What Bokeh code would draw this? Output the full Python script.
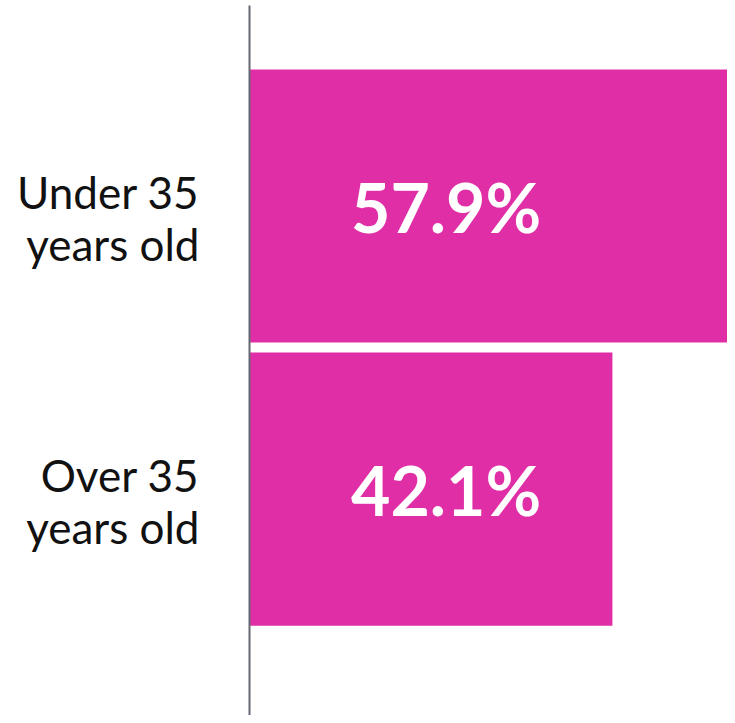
from bokeh.plotting import figure
from bokeh.models import Range1d, FixedTicker, ColumnDataSource
from bokeh.embed import file_html
from bokeh.resources import INLINE
from bokeh.core.properties import value

categories = ["Under 35\nyears old", "Over 35\nyears old"]
shares = [57.9, 42.1]
share_labels = ["57.9%", "42.1%"]

positions = list(range(len(categories)))
FONT = "Lato"
BAR_COLOR = "#E02EA6"
LABEL_X = 22.8
TICK_SHIFT = 0.042

src = ColumnDataSource(dict(y=positions, v=shares, lab=share_labels))

p = figure(width=727, height=715, output_backend="svg", toolbar_location=None,
           x_range=Range1d(0, 55.45), y_range=Range1d(1.800, -0.7085),
           min_border_left=249, min_border_right=0, min_border_top=5, min_border_bottom=0)

p.hbar(y="y", left=0, right="v", height=0.965, source=src, color=BAR_COLOR, line_color=None)
p.text(x=LABEL_X, y="y", text="lab", source=src, text_color="white",
       text_font=value(FONT), text_font_size="68px", text_font_style="bold",
       text_align="center", text_baseline="middle")

p.xaxis.visible = False
p.xgrid.visible = False
p.ygrid.visible = False
p.outline_line_color = None

tick_pos = [i + TICK_SHIFT for i in positions]
ya = p.yaxis[0]
ya.ticker = FixedTicker(ticks=tick_pos)
ya.major_label_overrides = {t: c for t, c in zip(tick_pos, categories)}
ya.major_tick_out = 0
ya.major_tick_in = 0
ya.minor_tick_out = 0
ya.minor_tick_in = 0
ya.axis_line_color = "#656873"
ya.axis_line_width = 2
ya.major_label_standoff = 50
ya.major_label_text_font = FONT
ya.major_label_text_font_size = "44px"
ya.major_label_text_color = "#111111"
ya.major_label_text_line_height = 1.0

open("out.html", "w").write(file_html(p, INLINE))
